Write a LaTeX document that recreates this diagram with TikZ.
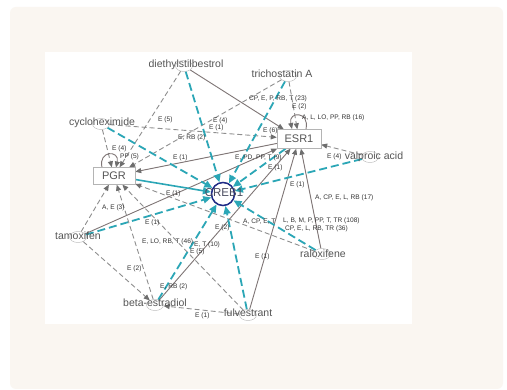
\documentclass[tikz,border=0pt]{standalone}
\usepackage{fontspec}
\setmainfont{Liberation Sans}
\usetikzlibrary{arrows.meta,shapes.geometric}
\definecolor{pagebg}{HTML}{FAF6F1}
\definecolor{edgegray}{HTML}{8E8E8E}
\definecolor{solidgray}{HTML}{7E7575}
\definecolor{tipgray}{HTML}{6E6E6E}
\definecolor{linkteal}{HTML}{2BA6B6}
\definecolor{crebblue}{HTML}{1E2A85}
\definecolor{boxgray}{HTML}{B4B4B4}
\definecolor{nametext}{HTML}{555555}
\definecolor{labeltext}{HTML}{333333}
\pgfdeclarelayer{back}
\pgfdeclarelayer{edges}
\pgfsetlayers{back,edges,main}
\tikzset{
  gene/.style={draw=boxgray, fill=white, rectangle, minimum width=44pt,
    minimum height=19pt, inner sep=0pt, text=nametext,
    font=\fontsize{11}{11}\selectfont},
  chem/.style={draw=boxgray, ellipse, minimum width=17pt, minimum height=11pt,
    inner sep=0pt},
  chemname/.style={inner sep=0pt, text=nametext, font=\fontsize{10.5}{10.5}\selectfont},
  elabel/.style={inner sep=0pt, anchor=west, text=labeltext,
    font=\fontsize{6.6}{6.6}\selectfont},
  direct/.style={draw=solidgray, line width=0.9pt,
    -{Triangle[length=6pt,width=5pt,color=tipgray]}},
  indirect/.style={draw=edgegray, line width=0.9pt, dash pattern=on 5pt off 3pt,
    -{Triangle[length=6pt,width=5pt,color=tipgray]}},
  tealdash/.style={draw=linkteal, line width=1.8pt, dash pattern=on 8pt off 4pt,
    -{Triangle[length=8pt,width=7pt]}},
  tealsolid/.style={draw=linkteal, line width=1.6pt,
    -{Triangle[length=8pt,width=7pt]}},
}
\begin{document}
\begin{tikzpicture}[x=1pt,y=-1pt]
\useasboundingbox (0,0) rectangle (507,390);
\begin{pgfonlayer}{back}
  \fill[white] (0,0) rectangle (507,390);
  \fill[pagebg, rounded corners=6pt] (10,7) rectangle (503,389);
  \fill[white] (45,52) rectangle (412,324);
\end{pgfonlayer}

% genes
\node[gene] (esr) at (299,139) {ESR1};
\node[gene, minimum width=42pt, minimum height=17pt] (pgr) at (114,176) {PGR};
\node[circle, draw=crebblue, line width=1.5pt, fill=white, minimum size=23pt,
  inner sep=0pt] (creb) at (223,194) {};
\node[inner sep=0pt, text=nametext!80!crebblue, font=\fontsize{11.5}{11.5}\selectfont]
  (crebname) at (224,193) {CREB1};

% chemicals: small ellipse plus name
\node[chem] (dst) at (184,66) {};
\node[chemname] (dstname) at (186,65) {diethylstilbestrol};
\node[chem] (tsa) at (288,76) {};
\node[chemname] (tsaname) at (282,74) {trichostatin A};
\node[chem] (chx) at (101,124) {};
\node[chemname] (chxname) at (102,123) {cycloheximide};
\node[chem] (vpa) at (370,157) {};
\node[chemname] (vpaname) at (374,157) {valproic acid};
\node[chem] (tam) at (78,237) {};
\node[chemname] (tamname) at (78,236) {tamoxifen};
\node[chem] (ral) at (322,254) {};
\node[chemname] (ralname) at (323,254) {raloxifene};
\node[chem] (e2) at (155,305) {};
\node[chemname] (e2name) at (155,303) {beta-estradiol};
\node[chem] (ful) at (248,315) {};
\node[chemname] (fulname) at (248,313) {fulvestrant};

\begin{pgfonlayer}{edges}
  % indirect relations
  \draw[indirect] (dst) -- (pgr);
  \draw[indirect] (tsa) -- (pgr);
  \draw[indirect] (tsa) -- (esr);
  \draw[indirect] (chx) -- (esr);
  \draw[indirect] (chx) -- (pgr);
  \draw[indirect] (vpa) -- (esr);
  \draw[indirect] (tam) -- (pgr);
  \draw[indirect] (tam) -- (e2);
  \draw[indirect] (e2) -- (pgr);
  \draw[indirect] (ful) -- (pgr);
  \draw[indirect] (ral) -- (pgr);
  \draw[indirect] (ful) -- (e2);
  % direct relations
  \draw[direct] (dst) -- (esr);
  \draw[direct] (esr) -- (pgr);
  \draw[direct] (tam) -- (esr);
  \draw[direct] (e2) -- (esr);
  \draw[direct] (ful) -- (esr);
  \draw[direct] (ral) -- (esr);
  % self loops
  \draw[direct] (102,167.5) .. controls (98,150) and (120,150) .. (116,167.5);
  \draw[direct] (306,129) .. controls (310,111) and (288,111) .. (292,129);
  % links into CREB1
  \draw[tealdash] (dst) -- (creb);
  \draw[tealdash] (tsa) -- (creb);
  \draw[tealdash] (chx) -- (creb);
  \draw[tealdash] (vpa) -- (creb);
  \draw[tealdash] (tam) -- (creb);
  \draw[tealdash] (ral) -- (creb);
  \draw[tealdash] (e2) -- (creb);
  \draw[tealdash] (ful) -- (creb);
  \draw[tealdash] (esr) -- (creb);
  \draw[tealsolid] (pgr) -- (creb);
\end{pgfonlayer}

% relation labels
\node[elabel] (l1) at (158,120) {E (5)};
\node[elabel] (l2) at (213,121) {E (4)};
\node[elabel] (l3) at (209,128) {E (1)};
\node[elabel] (l4) at (178,138) {E, RB (2)};
\node[elabel] (l5) at (112,149) {E (4)};
\node[elabel] (l6) at (120,157) {PP (5)};
\node[elabel] (l7) at (173,158) {E (1)};
\node[elabel] (l8) at (249,99) {CP, E, P, RB, T (23)};
\node[elabel] (l9) at (292,106.5) {E (2)};
\node[elabel] (l10) at (302,118) {A, L, LO, PP, RB (16)};
\node[elabel] (l11) at (263,131) {E (6)};
\node[elabel] (l12) at (235,158) {E, PD, PP, T (9)};
\node[elabel] (l13) at (268,168) {E (1)};
\node[elabel] (l14) at (290,185) {E (1)};
\node[elabel] (l15) at (327,157) {E (4)};
\node[elabel] (l16) at (315,198) {A, CP, E, L, RB (17)};
\node[elabel] (l17) at (243,222) {A, CP, E, T};
\node[elabel] (l18) at (283,221) {L, B, M, P, PP, T, TR (108)};
\node[elabel] (l19) at (285,228.5) {CP, E, L, RB, TR (36)};
\node[elabel] (l20) at (215,228) {E (2)};
\node[elabel] (l21) at (255,257) {E (1)};
\node[elabel] (l22) at (166,194) {E (1)};
\node[elabel] (l23) at (102,208) {A, E (3)};
\node[elabel] (l24) at (145,223) {E (1)};
\node[elabel] (l25) at (142,242) {E, LO, RB, T (46)};
\node[elabel] (l26) at (194,244.5) {E, T (10)};
\node[elabel] (l27) at (190,252) {E (5)};
\node[elabel] (l28) at (127,269) {E (2)};
\node[elabel] (l29) at (160,287) {E, RB (2)};
\node[elabel] (l30) at (195,316) {E (1)};
\end{tikzpicture}
\end{document}
